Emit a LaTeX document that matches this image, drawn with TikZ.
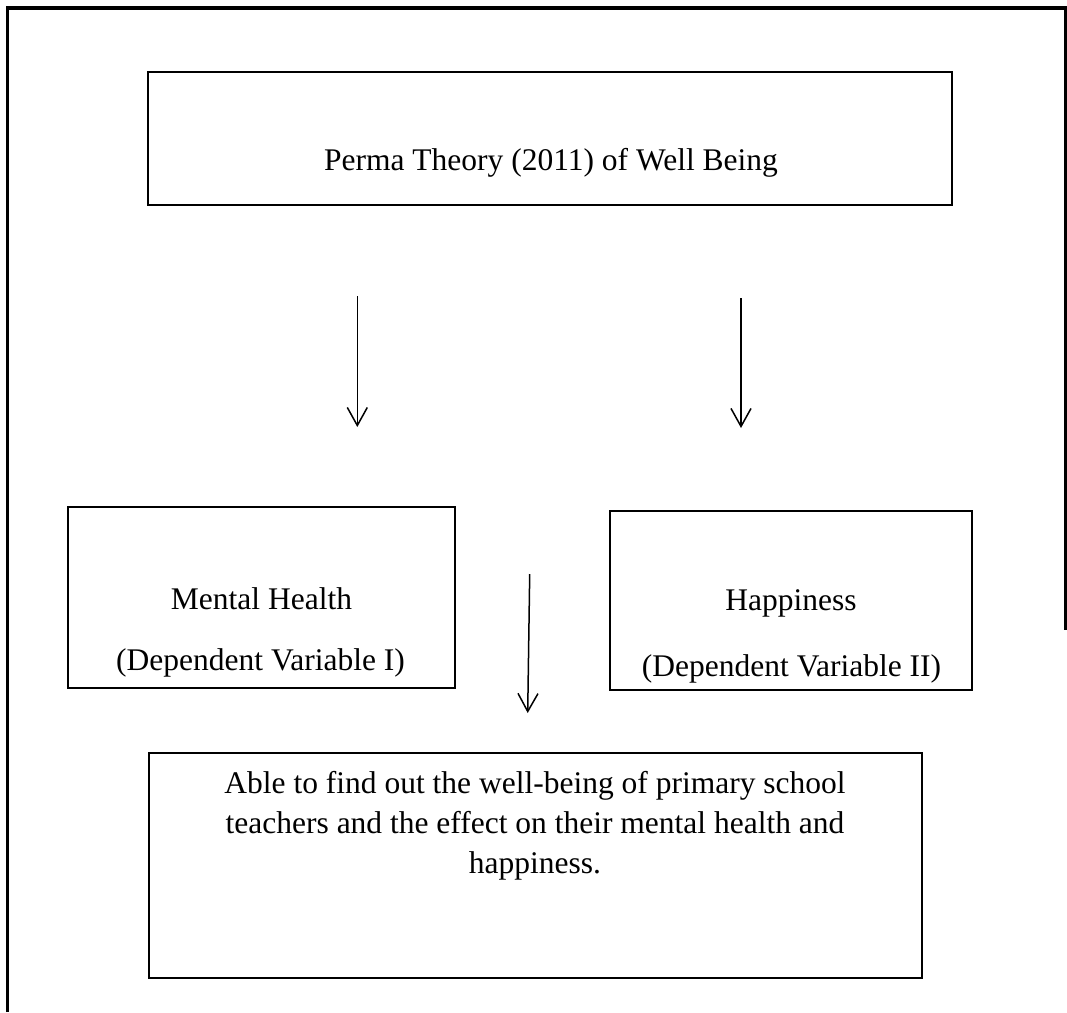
\documentclass[tikz,border=0pt]{standalone}
\usepackage{fontspec}
\setmainfont{Liberation Serif}
\usetikzlibrary{arrows.meta}
\tikzset{
  boxnode/.style={draw=black, line width=1.6pt, rectangle, inner sep=0pt},
  txt/.style={inner sep=0pt, anchor=base, font=\fontsize{31.5}{40}\selectfont},
  arr/.style={draw=black, line width=1.5pt, -{Straight Barb[length=18pt,width=20pt,line width=1.5pt]}},
  frame/.style={draw=black, line width=3.5pt}
}
\begin{document}
\begin{tikzpicture}[x=1pt,y=-1pt]
\useasboundingbox (0,0) rectangle (1067,1012);
% outer frame
\coordinate (fbl) at (7.5,1012);
\coordinate (ftl) at (7.5,8);
\coordinate (ftr) at (1067,8);
\draw[frame] (fbl) -- (ftl) -- (ftr);
\coordinate (rtop) at (1065.5,6.5);
\coordinate (rbot) at (1065.5,630);
\draw[black, line width=2.5pt] (rtop) -- (rbot);
% boxes
\node[boxnode, minimum width=804pt, minimum height=133pt] (perma) at (550,138.5) {};
\node[boxnode, minimum width=387pt, minimum height=181pt] (mh) at (261.5,597.5) {};
\node[boxnode, minimum width=362pt, minimum height=179pt] (hap) at (791,600.5) {};
\node[boxnode, minimum width=773pt, minimum height=225pt] (res) at (535.3,865.5) {};
% texts
\node[txt] (t1) at (551,170) {Perma Theory (2011) of Well Being};
\node[txt] (t2) at (261.5,609) {Mental Health};
\node[txt] (t3) at (260.5,670) {(Dependent Variable I)};
\node[txt] (t4) at (791,610) {Happiness};
\node[txt] (t5) at (791.5,676.7) {(Dependent Variable II)};
\node[txt] (t6) at (535,793) {Able to find out the well-being of primary school};
\node[txt] (t7) at (535,833) {teachers and the effect on their mental health and};
\node[txt] (t8) at (535,873) {happiness.};
% arrows
\coordinate (a1s) at (357.3,296);
\coordinate (a1e) at (357.3,427);
\coordinate (a2s) at (741,298);
\coordinate (a2e) at (741,428);
\coordinate (a3s) at (529.7,574);
\coordinate (a3e) at (527.7,713);
\draw[arr] (a1s) -- (a1e);
\draw[arr] (a2s) -- (a2e);
\draw[arr] (a3s) -- (a3e);
\end{tikzpicture}
\end{document}
